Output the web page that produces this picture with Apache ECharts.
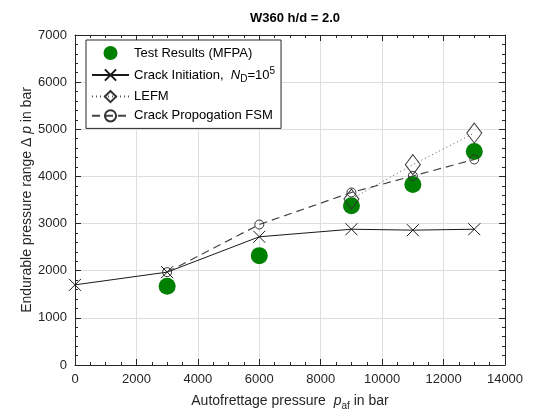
<!DOCTYPE html>
<html>
<head>
<meta charset="utf-8">
<script src="https://cdn.jsdelivr.net/npm/echarts@6/dist/echarts.min.js"></script>
<style>
  html, body { margin: 0; padding: 0; background: #fff; }
  #main { width: 537px; height: 412px; }
</style>
</head>
<body>
<div id="main"></div>
<script>
// values
var testResults = [[3000, 1670], [6000, 2320], [9000, 3380], [11000, 3830], [13000, 4530]];
var crackInit = [[0, 1700], [3000, 1970], [6000, 2720], [9000, 2880], [11000, 2860], [13000, 2880]];
var lefm = [[9000, 3520], [11000, 4250], [13000, 4920]];
var fsm = [[3000, 1970], [6000, 2980], [9000, 3660], [11000, 4010], [13000, 4360]];

var font = 'Liberation Sans, Arial, sans-serif';
var crossPath = 'path://M0,0L10,10M10,0L0,10';
var axisColor = '#262626';

var myChart = echarts.init(document.getElementById('main'));

// fresh axis object each time, echarts may touch the option objects
function makeAxis(extra, minorSplit, showLabel) {
  var ax = {
    type: 'value',
    nameMoveOverlap: false,
    axisLine: { show: true, onZero: false, lineStyle: { color: axisColor, width: 1 } },
    axisTick: { show: true, inside: true, length: 6, lineStyle: { color: axisColor } },
    minorTick: { show: true, splitNumber: minorSplit, length: 3, lineStyle: { color: axisColor } },
    axisLabel: {
      show: showLabel, color: axisColor, fontSize: 13, fontFamily: font, margin: 8,
      formatter: function (v) { return String(v); }
    },
    splitLine: { show: showLabel, lineStyle: { color: '#dedede', width: 1 } }
  };
  return Object.assign(ax, extra);
}

myChart.setOption({
  animation: false,
  backgroundColor: '#fff',
  title: {
    text: 'W360 h/d = 2.0',
    left: 290,
    top: 7,
    textAlign: 'center',
    textStyle: { fontSize: 13, fontWeight: 'bold', color: '#000', fontFamily: font }
  },
  grid: { left: 75, right: 32, top: 35, bottom: 47, outerBoundsMode: 'none' },
  legend: {
    orient: 'vertical',
    left: 86,
    top: 40,
    selectedMode: false,
    backgroundColor: '#fff',
    borderColor: axisColor,
    borderWidth: 1,
    borderRadius: 0,
    padding: [6, 6, 6, 5],
    itemWidth: 37,
    itemHeight: 14,
    itemGap: 6,
    textStyle: {
      fontSize: 13, color: '#000', fontFamily: font,
      rich: {
        t: { fontSize: 13, fontFamily: font, color: '#000' },
        i: { fontSize: 13, fontFamily: font, fontStyle: 'italic', color: '#000' },
        s: { fontSize: 10, fontFamily: font, color: '#000', padding: [8, 0, 0, 0] },
        u: { fontSize: 10, fontFamily: font, color: '#000', padding: [0, 0, 8, 0] }
      }
    },
    formatter: function (name) {
      if (name === 'Crack Initiation') {
        return '{t|Crack Initiation,  }{i|N}{s|D}{t|=10}{u|5}';
      }
      return name;
    },
    data: ['Test Results (MFPA)', 'Crack Initiation', 'LEFM', 'Crack Propogation FSM']
  },
  xAxis: [
    makeAxis({
      min: 0, max: 14000, interval: 2000,
      name: '{n|Autofrettage pressure  }{i|p}{s|af}{n| in bar}',
      nameLocation: 'middle',
      nameGap: 27,
      nameTextStyle: {
        rich: {
          n: { fontSize: 14, fontFamily: font, color: axisColor },
          i: { fontSize: 14, fontFamily: font, fontStyle: 'italic', color: axisColor },
          s: { fontSize: 10, fontFamily: font, color: axisColor, padding: [9, 0, 0, 0] }
        }
      }
    }, 4, true),
    makeAxis({ position: 'top', min: 0, max: 14000, interval: 2000 }, 4, false)
  ],
  yAxis: [
    makeAxis({
      min: 0, max: 7000, interval: 1000,
      name: '{n|Endurable pressure range }{n|\u0394 }{i|p}{n| in bar}',
      nameLocation: 'middle',
      nameGap: 41,
      nameTextStyle: {
        rich: {
          n: { fontSize: 14, fontFamily: font, color: axisColor },
          i: { fontSize: 14, fontFamily: font, fontStyle: 'italic', color: axisColor }
        }
      }
    }, 5, true),
    makeAxis({ position: 'right', min: 0, max: 7000, interval: 1000 }, 5, false)
  ],
  series: [
    {
      name: 'Test Results (MFPA)',
      type: 'scatter',
      data: testResults,
      symbol: 'circle',
      symbolSize: 17,
      itemStyle: { color: '#008000', opacity: 1 },
      z: 2
    },
    {
      name: 'Crack Initiation',
      type: 'line',
      data: crackInit,
      symbol: crossPath,
      symbolSize: 12,
      showAllSymbol: true,
      lineStyle: { color: '#1a1a1a', width: 1 },
      itemStyle: { color: 'rgba(0,0,0,0)', borderColor: '#1a1a1a', borderWidth: 1 },
      z: 3
    },
    {
      name: 'LEFM',
      type: 'line',
      data: lefm,
      symbol: 'diamond',
      symbolSize: [15, 20],
      lineStyle: { color: '#555', width: 1, type: [1, 3] },
      itemStyle: { color: 'rgba(255,255,255,0)', borderColor: '#333', borderWidth: 1 },
      z: 4
    },
    {
      name: 'Crack Propogation FSM',
      type: 'line',
      data: fsm,
      symbol: 'circle',
      symbolSize: 9,
      lineStyle: { color: '#444', width: 1.2, type: [8, 5] },
      itemStyle: { color: 'rgba(255,255,255,0)', borderColor: '#333', borderWidth: 1 },
      z: 5
    }
  ]
});
</script>
</body>
</html>
